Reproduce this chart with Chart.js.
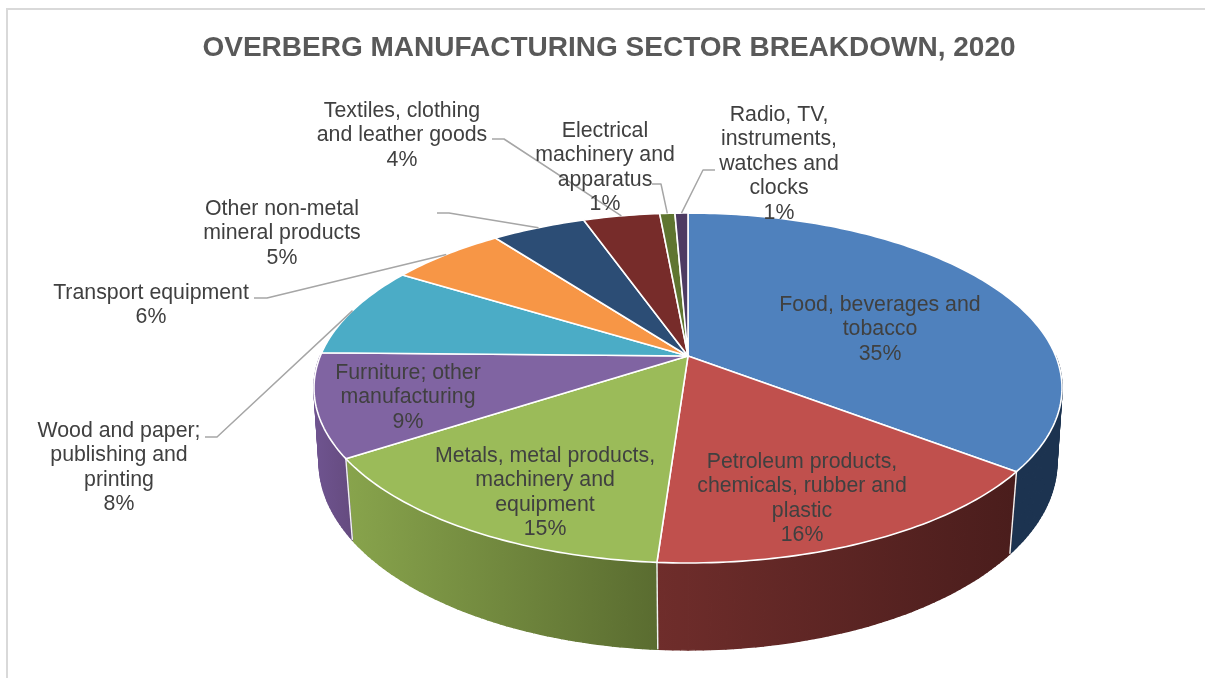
<!DOCTYPE html>
<html>
<head>
<meta charset="utf-8">
<style>html,body{margin:0;padding:0;background:#fff}canvas{display:block}</style>
<script src="https://cdn.jsdelivr.net/npm/chart.js@4/dist/chart.umd.js"></script>
</head>
<body>
<canvas id="c" width="1205" height="678"></canvas>
<script>
const categories = ["Food, beverages and tobacco","Petroleum products, chemicals, rubber and plastic","Metals, metal products, machinery and equipment","Furniture; other manufacturing","Wood and paper; publishing and printing","Transport equipment","Other non-metal mineral products","Textiles, clothing and leather goods","Electrical machinery and apparatus","Radio, TV, instruments, watches and clocks"];
const shares = [35.4,15.7,14.7,9.5,8.5,5.95,4.85,3.95,0.78,0.67];
const percentLabels = ["35%","16%","15%","9%","8%","6%","5%","4%","1%","1%"];
const topColors = ["#4f81bd","#c0504d","#9bbb59","#8064a2","#4bacc6","#f79646","#2c4d75","#772c2a","#5f7530","#4d3b62"];
const wallLeft = ["#1c3350","#6f2d2b","#88a44c","#6f5490","#2f7a8c","#b06a2c","#1c3350","#4a1d1c","#3f4f20","#32263f"];
const wallRight = ["#1c3350","#4a1d1c","#5a6c30","#654b7f","#2f7a8c","#b06a2c","#1c3350","#4a1d1c","#3f4f20","#32263f"];
const labelLines = [
 ["Food, beverages and","tobacco"],
 ["Petroleum products,","chemicals, rubber and","plastic"],
 ["Metals, metal products,","machinery and","equipment"],
 ["Furniture; other","manufacturing"],
 ["Wood and paper;","publishing and","printing"],
 ["Transport equipment"],
 ["Other non-metal","mineral products"],
 ["Textiles, clothing","and leather goods"],
 ["Electrical","machinery and","apparatus"],
 ["Radio, TV,","instruments,","watches and","clocks"]
];
const labelCenterX = [880,802,545,408,119,151,282,402,605,779];
const labelFirstY = [305,462,456,373,431,293,209,111,131,115];
const leaderStart = [null,null,null,null,[205,437,217,437],[254,298,267,298],[437,213,449,213],[492,139,504,139],[652,184,661,184],[715,170,703,170]];

const upper = {cx:688, cy:356, R:367.7, b:169.1, k:0.183};
const lower = {cx:688, cy:430, R:363.5, b:182.5, k:0.17};
function project(p, th){
  const u = Math.sin(th), v = -Math.cos(th), d = 1 - p.k*v;
  return [p.cx + p.R*u/d, p.cy + p.b*v/d];
}
const STEP = Math.PI/180;
function arcPts(p,a,b){
  const n = Math.max(1,Math.ceil((b-a)/STEP)), out=[];
  for(let i=0;i<=n;i++) out.push(project(p,a+(b-a)*i/n));
  return out;
}
function poly(ctx,pts){ctx.beginPath();pts.forEach((q,i)=>i?ctx.lineTo(q[0],q[1]):ctx.moveTo(q[0],q[1]));ctx.closePath();}

const pie3d = {
  id:'pie3d',
  beforeDraw(chart){
    const ctx=chart.ctx;
    ctx.save();
    ctx.strokeStyle='#d9d9d9';ctx.lineWidth=2;
    ctx.beginPath();ctx.moveTo(7,678);ctx.lineTo(7,9);ctx.lineTo(1205,9);ctx.stroke();
    ctx.restore();
  },
  beforeDatasetDraw(){ return false; },
  afterDatasetsDraw(chart){
    const ctx=chart.ctx, arcs=chart.getDatasetMeta(0).data;
    const slices=arcs.map((el,i)=>({i,a:el.startAngle+Math.PI/2,b:el.endAngle+Math.PI/2}));
    ctx.save();
    ctx.lineJoin='round';
    // side walls (front half only), built as overlapping strips so the silhouette follows the envelope
    slices.forEach(s=>{
      const a=Math.max(s.a,Math.PI/2), b=Math.min(s.b,Math.PI*1.5);
      if(b<=a) return;
      const top=arcPts(upper,a,b), bot=arcPts(lower,a,b);
      const xs=top.concat(bot).map(q=>q[0]);
      const g=ctx.createLinearGradient(Math.min(...xs),0,Math.max(...xs),0);
      g.addColorStop(0,wallLeft[s.i]);g.addColorStop(1,wallRight[s.i]);
      ctx.fillStyle=g;ctx.strokeStyle=g;ctx.lineWidth=1.5;
      for(let n=0;n<top.length-1;n++){
        poly(ctx,[top[n],top[n+1],bot[n+1],bot[n]]);ctx.fill();ctx.stroke();
      }
    });
    // separators between front-facing walls
    ctx.strokeStyle='#f2f2f2';ctx.lineWidth=1.4;
    slices.forEach(s=>{
      if(-Math.cos(s.b)<=0) return;
      const p=project(upper,s.b), q=project(lower,s.b);
      ctx.beginPath();ctx.moveTo(p[0],p[1]);ctx.lineTo(q[0],q[1]);ctx.stroke();
    });
    // top face
    slices.forEach(s=>{
      poly(ctx,[[upper.cx,upper.cy]].concat(arcPts(upper,s.a,s.b)));
      ctx.fillStyle=topColors[s.i];ctx.fill();
      ctx.strokeStyle='#ffffff';ctx.lineWidth=1.6;ctx.stroke();
    });
    // leader lines
    ctx.strokeStyle='#a6a6a6';ctx.lineWidth=1.5;
    slices.forEach(s=>{
      const st=leaderStart[s.i]; if(!st) return;
      const e=project(upper,(s.a+s.b)/2);
      ctx.beginPath();ctx.moveTo(st[0],st[1]);ctx.lineTo(st[2],st[3]);ctx.lineTo(e[0],e[1]);ctx.stroke();
    });
    // labels
    ctx.fillStyle='#404040';ctx.font='21.3px "Liberation Sans", Arial, sans-serif';
    ctx.textAlign='center';ctx.textBaseline='middle';
    labelLines.forEach((lines,i)=>{
      lines.concat(percentLabels[i]).forEach((t,j)=>{
        ctx.fillText(t,labelCenterX[i],labelFirstY[i]+j*24.5);
      });
    });
    ctx.restore();
  }
};

new Chart(document.getElementById('c'),{
  type:'pie',
  data:{labels:categories,datasets:[{data:shares,backgroundColor:topColors,borderColor:'#ffffff'}]},
  plugins:[pie3d],
  options:{
    responsive:false,animation:false,
    layout:{padding:{left:13,top:23}},
    plugins:{
      legend:{display:false},tooltip:{enabled:false},
      title:{display:true,text:"OVERBERG MANUFACTURING SECTOR BREAKDOWN, 2020",color:'#595959',
        font:{family:'"Liberation Sans", Arial, sans-serif',size:28,weight:'bold'},padding:{top:8,bottom:8}}
    }
  }
});
</script>
</body>
</html>
